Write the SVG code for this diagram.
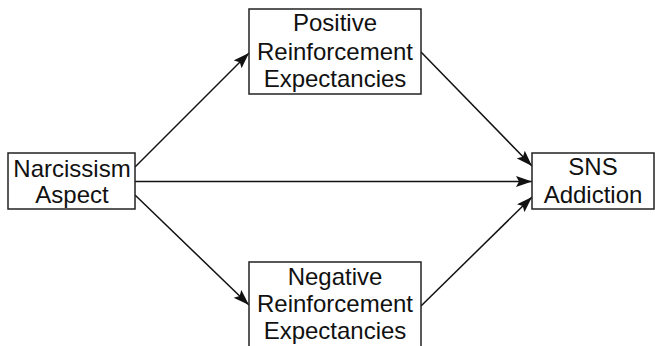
<svg xmlns="http://www.w3.org/2000/svg" width="655" height="346" viewBox="0 0 655 346">
<style>
.box{fill:#fff;stroke:#222;stroke-width:1.5}
.t{font-family:"Liberation Sans",Arial,sans-serif;font-size:24px;fill:#111;text-anchor:middle}
.c{stroke:#111;stroke-width:1.5;fill:none;marker-end:url(#ah)}
</style>
<defs>
<marker id="ah" markerUnits="userSpaceOnUse" markerWidth="17" markerHeight="12" refX="16" refY="5.5" orient="auto">
<path d="M0,0 L16,5.5 L0,11 L3,5.5 Z" fill="#111"/>
</marker>
</defs>
<rect width="655" height="346" fill="#fff"/>
<g id="connectors">
<line class="c" x1="135" y1="167" x2="249" y2="53"/>
<line class="c" x1="135" y1="181.5" x2="532" y2="181.5"/>
<line class="c" x1="135" y1="195" x2="249" y2="305"/>
<line class="c" x1="421" y1="52" x2="532" y2="166"/>
<line class="c" x1="421" y1="306" x2="532" y2="197"/>
</g>
<g id="narcissism">
<rect class="box" x="8" y="153" width="127" height="56"/>
<text class="t" x="72" y="177">Narcissism</text>
<text class="t" x="72" y="203">Aspect</text>
</g>
<g id="positive">
<rect class="box" x="249" y="9" width="172" height="85"/>
<text class="t" x="335" y="31">Positive</text>
<text class="t" x="335" y="60">Reinforcement</text>
<text class="t" x="335" y="87">Expectancies</text>
</g>
<g id="negative">
<rect class="box" x="249" y="262" width="172" height="86"/>
<text class="t" x="335" y="285">Negative</text>
<text class="t" x="335" y="312">Reinforcement</text>
<text class="t" x="335" y="339">Expectancies</text>
</g>
<g id="sns">
<rect class="box" x="532" y="153" width="122" height="56"/>
<text class="t" x="593" y="175">SNS</text>
<text class="t" x="593" y="203">Addiction</text>
</g>
</svg>
